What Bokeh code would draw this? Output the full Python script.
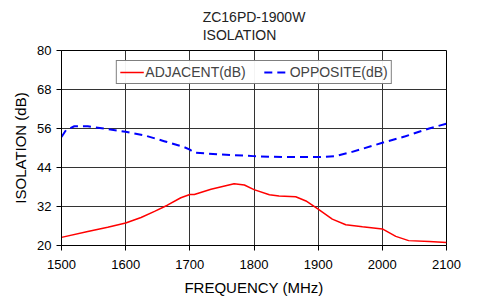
from bokeh.plotting import figure
from bokeh.models import FixedTicker, Range1d, Legend, LegendItem
from bokeh.embed import file_html
from bokeh.resources import INLINE

# Data
freq_adj = [1500, 1541, 1572, 1600, 1624, 1645, 1665, 1686, 1700, 1707, 1733, 1769, 1785, 1800,
            1824, 1839, 1865, 1881, 1900, 1922, 1943, 1969, 2000, 2021, 2041, 2073, 2100]
adjacent = [22.5, 24.3, 25.6, 26.9, 28.6, 30.5, 32.4, 34.7, 35.7, 35.7, 37.3, 39.0, 38.6, 37.2,
            35.6, 35.2, 35.0, 33.7, 31.2, 28.1, 26.4, 25.8, 25.1, 22.8, 21.5, 21.2, 20.9]

freq_opp = [1500, 1507, 1520, 1541, 1572, 1600, 1629, 1660, 1691, 1700, 1707, 1748, 1799,
            1845, 1900, 1927, 1953, 2000, 2036, 2073, 2100]
opposite = [53.4, 55.5, 56.7, 56.7, 55.8, 55.0, 53.9, 52.1, 50.3, 49.5, 48.6, 48.0, 47.5,
            47.2, 47.2, 47.5, 48.8, 51.6, 53.6, 56.0, 57.5]

x_ticks = [1500, 1600, 1700, 1800, 1900, 2000, 2100]
y_ticks = [20, 32, 44, 56, 68, 80]
title_lines = ["ZC16PD-1900W", "ISOLATION"]

FONT = "Liberation Sans"

p = figure(width=470, height=289, output_backend="svg", toolbar_location=None,
           x_range=Range1d(1500, 2100), y_range=Range1d(20, 80),
           min_border_left=61, min_border_right=24, min_border_top=50, min_border_bottom=44)
p.frame_width = 385
p.frame_height = 195

p.title.text = "\n".join(title_lines)
p.title.align = "center"
p.title.text_font = FONT
p.title.text_font_size = "14px"
p.title.text_font_style = "normal"
p.title.text_color = "#222222"
p.title.text_line_height = 1.15
p.title.standoff = 14
p.title.offset = 0

r1 = p.line(freq_adj, adjacent, line_color="red", line_width=1.5)
r2 = p.line(freq_opp, opposite, line_color="blue", line_width=2, line_dash="8 5")

legend = Legend(items=[LegendItem(label="ADJACENT(dB)", renderers=[r1]),
                       LegendItem(label="OPPOSITE(dB)", renderers=[r2])],
                orientation="horizontal", location="top_center")
legend.border_line_color = "black"
legend.border_line_width = 1
legend.label_text_font = FONT
legend.label_text_font_size = "14px"
legend.glyph_width = 24
legend.glyph_height = 12
legend.label_height = 12
legend.spacing = 18
legend.padding = 3
legend.margin = 10
legend.label_standoff = 2
p.add_layout(legend, "center")

for ax in (p.xaxis, p.yaxis):
    ax.major_label_text_font = FONT
    ax.major_label_text_font_size = "13px"
    ax.major_label_text_color = "black"
    ax.axis_label_text_font = FONT
    ax.axis_label_text_font_size = "15px"
    ax.axis_label_text_font_style = "normal"
    ax.axis_label_text_color = "black"
    ax.minor_tick_line_color = None
    ax.major_tick_out = 5
    ax.major_tick_in = 0
    ax.axis_line_color = "black"
    ax.major_tick_line_color = "black"

p.xaxis.ticker = FixedTicker(ticks=x_ticks)
p.yaxis.ticker = FixedTicker(ticks=y_ticks)
p.xaxis.axis_label = "FREQUENCY (MHz)"
p.yaxis.axis_label = "ISOLATION (dB)"
p.xaxis.axis_label_standoff = 7
p.yaxis.axis_label_standoff = 5
p.xaxis.major_label_standoff = 9

p.xgrid.ticker = FixedTicker(ticks=x_ticks)
p.ygrid.ticker = FixedTicker(ticks=y_ticks)
p.grid.grid_line_color = "#333333"
p.grid.grid_line_alpha = 1
p.grid.grid_line_width = 1

p.outline_line_color = "black"
p.outline_line_width = 1
p.background_fill_color = "white"
p.border_fill_color = "white"

open("out.html", "w").write(file_html(p, INLINE))
